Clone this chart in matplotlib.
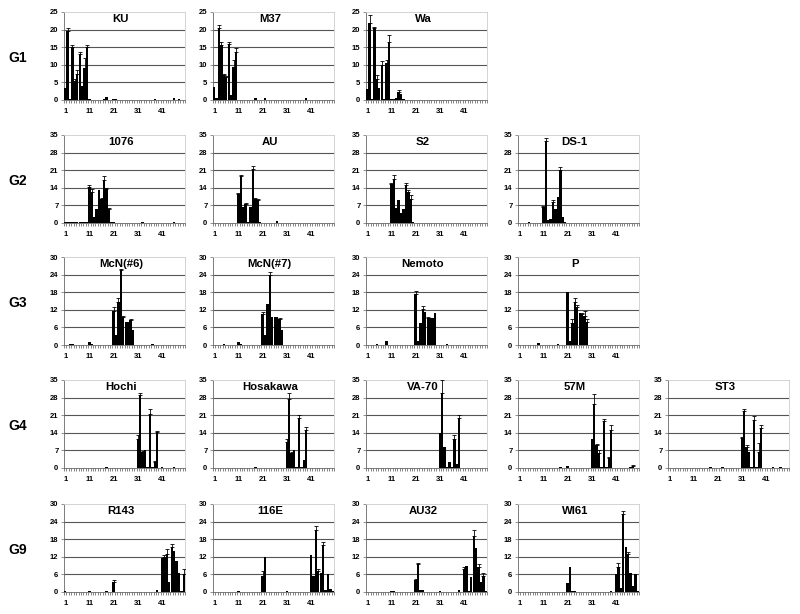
import matplotlib
matplotlib.use('Agg')
import matplotlib.pyplot as plt
import numpy as np

plt.rcParams['font.family'] = ['Liberation Sans', 'DejaVu Sans']

# ---------------- data (percent per fraction 1..50) ----------------
fractions = list(range(1, 51))
xtick_labels = ['1', '11', '21', '31', '41']

KU = [3.5, 19.5, 0.3, 15, 5.5, 7.5, 13, 4, 9, 15,
      0.2, 0.1, 0.1, 0.1, 0.1, 0.1, 0.2, 0.8, 0.1, 0.1,
      0.4, 0.2, 0.1, 0.1, 0.1, 0.1, 0.1, 0.1, 0.1, 0.1,
      0.1, 0.1, 0.1, 0.1, 0.1, 0.1, 0.1, 0.4, 0.1, 0.1,
      0.1, 0.1, 0.1, 0.1, 0.1, 0.5, 0.1, 0.4, 0.1, 0.1]
KU_err = {2: 1, 4: 0.5, 5: 0.5, 6: 1, 7: 0.5, 9: 3, 10: 0.6}

M37 = [3.8, 0.5, 20.5, 15.5, 7, 6.5, 16, 1.5, 9.5, 13.5,
       0.1, 0.1, 0.1, 0.1, 0.1, 0.1, 0.1, 0.5, 0.1, 0.1,
       0.1, 0.5, 0.1, 0.1, 0.1, 0.1, 0.1, 0.1, 0.1, 0.1,
       0.1, 0.1, 0.1, 0.1, 0.1, 0.1, 0.1, 0.1, 0.6, 0.1,
       0.1, 0.1, 0.1, 0.1, 0.1, 0.1, 0.1, 0.1, 0.1, 0.1]
M37_err = {3: 0.8, 4: 1, 5: 0.5, 6: 0.3, 7: 0.5, 9: 2, 10: 1.2}

Wa = [3, 22, 0.3, 20.5, 6, 3.5, 10, 0.3, 10.5, 16.5,
      0.3, 0.2, 0.5, 2.3, 1.8, 0.3, 0.1, 0.1, 0.1, 0.1,
      0.1, 0.1, 0.1, 0.1, 0.1, 0.1, 0.1, 0.1, 0.1, 0.1,
      0.1, 0.1, 0.1, 0.1, 0.1, 0.1, 0.1, 0.1, 0.1, 0.1,
      0.1, 0.1, 0.1, 0.1, 0.1, 0.1, 0.1, 0.1, 0.1, 0.1]
Wa_err = {2: 2.2, 4: 0.3, 5: 1, 7: 1, 9: 1, 10: 2, 14: 0.4}

S1076 = [0.3, 0.2, 0.3, 0.2, 0.3, 0.2, 0.3, 0.2, 0.3, 0.2,
         14.5, 12.5, 2.5, 5.5, 13, 9.5, 17, 13.5, 5.5, 0.2,
         0.2, 0.1, 0.1, 0.1, 0.1, 0.1, 0.1, 0.1, 0.1, 0.1,
         0.1, 0.1, 0.5, 0.1, 0.1, 0.1, 0.1, 0.1, 0.1, 0.1,
         0.1, 0.1, 0.1, 0.1, 0.1, 0.3, 0.1, 0.1, 0.1, 0.1]
S1076_err = {11: 0.5, 12: 1, 16: 0.5, 17: 1.5, 18: 0.5, 19: 0.5}

AU = [0.1, 0.1, 0.1, 0.1, 0.1, 0.1, 0.1, 0.1, 0.1, 0.1,
      11.5, 18.5, 6.5, 7.5, 0.3, 6.5, 21.5, 9.5, 9, 0.2,
      0.1, 0.1, 0.1, 0.1, 0.1, 0.1, 0.6, 0.1, 0.1, 0.1,
      0.1, 0.1, 0.1, 0.1, 0.1, 0.1, 0.1, 0.1, 0.1, 0.1,
      0.1, 0.1, 0.1, 0.1, 0.1, 0.1, 0.1, 0.1, 0.1, 0.1]
AU_err = {11: 0.5, 12: 0.5, 14: 0.3, 17: 1, 18: 0.5, 19: 0.5}

S2 = [0.1, 0.1, 0.1, 0.1, 0.1, 0.1, 0.1, 0.1, 0.1, 0.1,
      15.5, 17.5, 6, 9, 4, 5.5, 15, 12.5, 9.5, 0.2,
      0.1, 0.1, 0.1, 0.1, 0.1, 0.1, 0.1, 0.1, 0.1, 0.1,
      0.1, 0.1, 0.1, 0.1, 0.1, 0.1, 0.1, 0.1, 0.1, 0.1,
      0.1, 0.1, 0.1, 0.1, 0.1, 0.1, 0.1, 0.1, 0.1, 0.1]
S2_err = {11: 0.5, 12: 1.5, 17: 1, 18: 0.5, 19: 1.5}

DS1 = [0.1, 0.1, 0.1, 0.1, 0.5, 0.1, 0.1, 0.1, 0.1, 0.1,
       6.5, 32.5, 1, 1.5, 8.5, 5.5, 10.5, 21, 2.5, 0.2,
       0.1, 0.1, 0.1, 0.1, 0.1, 0.1, 0.1, 0.1, 0.1, 0.1,
       0.1, 0.1, 0.1, 0.1, 0.1, 0.1, 0.1, 0.1, 0.1, 0.1,
       0.1, 0.1, 0.1, 0.1, 0.1, 0.1, 0.1, 0.1, 0.1, 0.1]
DS1_err = {11: 0.3, 12: 1.5, 15: 0.5, 18: 1.2}

McN6 = [0.1, 0.1, 0.4, 0.4, 0.1, 0.1, 0.1, 0.1, 0.1, 0.1,
        1.0, 0.2, 0.1, 0.1, 0.1, 0.1, 0.1, 0.1, 0.1, 0.1,
        11.5, 3.5, 14.5, 25.5, 9.5, 8, 8, 8.5, 5, 0.1,
        0.1, 0.1, 0.1, 0.1, 0.1, 0.1, 0.4, 0.1, 0.1, 0.1,
        0.1, 0.1, 0.1, 0.1, 0.1, 0.1, 0.1, 0.1, 0.1, 0.1]
McN6_err = {21: 1.5, 23: 1.5, 24: 0.5, 25: 0.3, 28: 0.5}

McN7 = [0.1, 0.1, 0.1, 0.1, 0.4, 0.1, 0.1, 0.1, 0.1, 0.1,
        1.0, 0.2, 0.1, 0.1, 0.1, 0.1, 0.1, 0.1, 0.1, 0.1,
        10.5, 3.5, 14, 24, 9.5, 9.5, 9.5, 9, 5, 0.1,
        0.1, 0.1, 0.1, 0.1, 0.1, 0.1, 0.1, 0.1, 0.1, 0.1,
        0.1, 0.1, 0.1, 0.1, 0.1, 0.1, 0.1, 0.1, 0.1, 0.1]
McN7_err = {21: 0.8, 24: 1, 28: 0.3}

Nemoto = [0.1, 0.1, 0.1, 0.1, 0.2, 0.1, 0.1, 0.1, 1.2, 0.1,
          0.1, 0.1, 0.1, 0.1, 0.1, 0.1, 0.1, 0.1, 0.1, 0.1,
          17.5, 1.5, 7.5, 12.4, 11.3, 9.3, 9.3, 9.3, 11, 0.1,
          0.1, 0.1, 0.1, 0.3, 0.1, 0.1, 0.1, 0.1, 0.1, 0.1,
          0.1, 0.1, 0.1, 0.1, 0.1, 0.1, 0.1, 0.1, 0.1, 0.1]
Nemoto_err = {21: 0.8, 24: 1, 26: 0.3}

P = [0.1, 0.1, 0.1, 0.1, 0.1, 0.1, 0.1, 0.1, 0.8, 0.1,
     0.1, 0.1, 0.1, 0.1, 0.1, 0.1, 0.3, 0.1, 0.1, 0.1,
     18, 1.5, 7.5, 14.5, 13, 11, 10.5, 10, 8, 0.1,
     0.1, 0.1, 0.1, 0.1, 0.1, 0.1, 0.1, 0.1, 0.1, 0.1,
     0.1, 0.1, 0.1, 0.1, 0.1, 0.1, 0.1, 0.1, 0.1, 0.1]
P_err = {23: 1.5, 24: 1.5, 25: 0.5, 27: 0.5, 28: 1.5, 29: 1}

Hochi = [0.1, 0.1, 0.1, 0.1, 0.1, 0.1, 0.1, 0.1, 0.1, 0.1,
         0.1, 0.1, 0.1, 0.1, 0.1, 0.1, 0.1, 0.5, 0.1, 0.1,
         0.1, 0.1, 0.1, 0.1, 0.1, 0.1, 0.1, 0.1, 0.1, 0.1,
         11.5, 29, 6.5, 7, 0.3, 21.5, 0.3, 2.5, 14.5, 0.1,
         0.3, 0.1, 0.1, 0.1, 0.1, 0.2, 0.1, 0.1, 0.1, 0.1]
Hochi_err = {31: 1.5, 32: 1, 33: 0.3, 36: 2, 38: 0.3, 39: 0.3}

Hosakawa = [0.1, 0.1, 0.1, 0.1, 0.1, 0.1, 0.1, 0.1, 0.1, 0.1,
            0.1, 0.1, 0.1, 0.1, 0.1, 0.1, 0.1, 0.5, 0.1, 0.1,
            0.1, 0.1, 0.1, 0.1, 0.1, 0.1, 0.1, 0.1, 0.1, 0.1,
            10.5, 27.5, 6, 7, 0.3, 20, 0.3, 3, 15, 0.1,
            0.1, 0.1, 0.1, 0.1, 0.1, 0.1, 0.1, 0.1, 0.1, 0.1]
Hosakawa_err = {31: 1, 32: 2.5, 33: 0.5, 36: 1, 39: 1.5}

VA70 = [0.1, 0.1, 0.1, 0.1, 0.1, 0.1, 0.1, 0.1, 0.1, 0.1,
        0.1, 0.1, 0.1, 0.1, 0.1, 0.1, 0.1, 0.1, 0.1, 0.1,
        0.1, 0.1, 0.1, 0.1, 0.1, 0.1, 0.1, 0.1, 0.1, 0.1,
        14, 30, 8.5, 0.3, 2.5, 0.5, 11.5, 1.5, 20, 0.1,
        0.1, 0.1, 0.1, 0.1, 0.1, 0.1, 0.1, 0.1, 0.1, 0.1]
VA70_err = {32: 5, 37: 1.5, 39: 1}

M57 = [0.1, 0.1, 0.1, 0.1, 0.1, 0.1, 0.1, 0.1, 0.1, 0.1,
       0.1, 0.1, 0.1, 0.1, 0.1, 0.1, 0.1, 0.4, 0.1, 0.1,
       0.7, 0.1, 0.1, 0.1, 0.1, 0.1, 0.1, 0.1, 0.1, 0.1,
       11.5, 25.5, 9, 6, 0.3, 18.5, 0.3, 4, 15, 0.1,
       0.1, 0.1, 0.1, 0.1, 0.1, 0.1, 0.3, 0.6, 0.1, 0.1]
M57_err = {32: 4, 33: 0.5, 34: 1, 36: 1, 38: 0.3, 39: 2, 48: 0.6}

ST3 = [0.1, 0.1, 0.1, 0.1, 0.1, 0.1, 0.1, 0.1, 0.1, 0.1,
       0.1, 0.1, 0.1, 0.1, 0.1, 0.1, 0.1, 0.5, 0.1, 0.1,
       0.1, 0.1, 0.2, 0.1, 0.1, 0.1, 0.1, 0.1, 0.1, 0.1,
       12, 22.5, 8.5, 6.5, 0.3, 19, 0.3, 6.5, 16, 0.1,
       0.1, 0.1, 0.1, 0.2, 0.1, 0.1, 0.4, 0.1, 0.1, 0.1]
ST3_err = {31: 0.5, 32: 1, 33: 0.5, 36: 1.5, 38: 3.5, 39: 1}

R143 = [0.2, 0.1, 0.1, 0.1, 0.1, 0.1, 0.1, 0.1, 0.1, 0.1,
        0.5, 0.1, 0.1, 0.1, 0.1, 0.1, 0.1, 0.3, 0.1, 0.1,
        3.5, 0.1, 0.1, 0.1, 0.1, 0.1, 0.1, 0.1, 0.1, 0.1,
        0.1, 0.1, 0.1, 0.1, 0.1, 0.1, 0.1, 0.1, 0.8, 0.1,
        11.5, 12, 13, 3.5, 15.5, 14, 10.5, 6.5, 0.3, 6]
R143_err = {21: 0.5, 42: 0.5, 43: 1.5, 45: 1, 50: 2}

E116 = [0.1, 0.1, 0.1, 0.1, 0.1, 0.1, 0.1, 0.1, 0.1, 0.1,
        0.3, 0.1, 0.1, 0.1, 0.1, 0.1, 0.1, 0.1, 0.1, 0.1,
        5.5, 12, 0.1, 0.1, 0.1, 0.1, 0.1, 0.1, 0.1, 0.1,
        0.2, 0.1, 0.1, 0.1, 0.1, 0.1, 0.1, 0.1, 0.1, 0.1,
        12.5, 5.5, 21, 7, 6.5, 16, 0.8, 6, 1, 0.5]
E116_err = {21: 1.5, 43: 1.5, 44: 1, 46: 1}

AU32 = [0.1, 0.1, 0.1, 0.1, 0.1, 0.1, 0.1, 0.1, 0.1, 0.1,
        0.3, 0.3, 0.1, 0.1, 0.1, 0.1, 0.1, 0.1, 0.1, 0.1,
        4, 9.5, 0.8, 0.8, 0.1, 0.1, 0.1, 0.1, 0.1, 0.1,
        0.2, 0.1, 0.1, 0.1, 0.1, 0.1, 0.1, 0.1, 0.8, 0.1,
        8, 9, 0.5, 5, 19, 15, 8.5, 3.5, 5.5, 0.3]
AU32_err = {21: 0.3, 22: 0.3, 41: 0.5, 45: 2, 47: 1, 49: 1}

WI61 = [0.1, 0.1, 0.1, 0.1, 0.1, 0.1, 0.1, 0.1, 0.1, 0.1,
        0.1, 0.1, 0.1, 0.1, 0.1, 0.1, 0.1, 0.1, 0.1, 0.1,
        3, 8.5, 0.5, 0.3, 0.1, 0.1, 0.1, 0.1, 0.1, 0.1,
        0.1, 0.1, 0.1, 0.1, 0.1, 0.1, 0.1, 0.1, 0.5, 0.1,
        6, 8.5, 1.5, 26.5, 15.5, 13, 6.5, 2, 6, 0.3]
WI61_err = {42: 1.5, 44: 1, 46: 0.5}

row_labels = ['G1', 'G2', 'G3', 'G4', 'G9']
row_ymax = [25, 35, 30, 35, 30]
rows = [
    [('KU', KU, KU_err), ('M37', M37, M37_err), ('Wa', Wa, Wa_err)],
    [('1076', S1076, S1076_err), ('AU', AU, AU_err), ('S2', S2, S2_err), ('DS-1', DS1, DS1_err)],
    [('McN(#6)', McN6, McN6_err), ('McN(#7)', McN7, McN7_err), ('Nemoto', Nemoto, Nemoto_err), ('P', P, P_err)],
    [('Hochi', Hochi, Hochi_err), ('Hosakawa', Hosakawa, Hosakawa_err), ('VA-70', VA70, VA70_err),
     ('57M', M57, M57_err), ('ST3', ST3, ST3_err)],
    [('R143', R143, R143_err), ('116E', E116, E116_err), ('AU32', AU32, AU32_err), ('WI61', WI61, WI61_err)],
]

# ---------------- layout ----------------
W, H = 800, 614
fig = plt.figure(figsize=(W / 100, H / 100), dpi=100)
col_left = [64, 213, 366, 518, 668]
row_top = [12, 135, 257, 380, 504]
AX_W, AX_H = 121, 88

for r, panels in enumerate(rows):
    ymax = row_ymax[r]
    fig.text(18 / W, 1 - (row_top[r] + 46) / H, row_labels[r], ha='center', va='center',
             fontsize=10, fontweight='bold')
    for c, (title, vals, errd) in enumerate(panels):
        left, top = col_left[c], row_top[r]
        ax = fig.add_axes([left / W, 1 - (top + AX_H) / H, AX_W / W, AX_H / H])
        x = np.array(fractions)
        v = np.array(vals, dtype=float)
        up = np.array([errd.get(i, 0.0) for i in fractions])
        ax.bar(x, v, width=0.97, color='black', linewidth=0, zorder=3)
        m = up > 0
        ax.errorbar(x[m], v[m], yerr=[np.zeros(m.sum()), up[m]], fmt='none',
                    ecolor='black', elinewidth=0.6, capsize=1.2, capthick=0.6, zorder=4)
        ax.set_xlim(0.5, 50.5)
        ax.set_ylim(0, ymax)
        step = ymax / 5
        yt = [step * k for k in range(6)]
        ax.set_yticks(yt)
        ax.set_yticklabels([str(int(t)) for t in yt])
        for t in yt[1:-1]:
            ax.axhline(t, color='#555555', linewidth=0.8, zorder=1)
        ax.set_xticks([1, 11, 21, 31, 41])
        ax.set_xticklabels(xtick_labels)
        ax.set_xticks(np.arange(0.5, 51, 1), minor=True)
        ax.tick_params(axis='x', which='major', length=0, pad=6, labelsize=5.5)
        ax.tick_params(axis='x', which='minor', length=2.2, width=0.5, color='#555555', direction='out')
        ax.tick_params(axis='y', which='major', length=2, width=0.5, color='#666666', pad=2,
                       labelsize=5.5)
        for lab in ax.get_xticklabels() + ax.get_yticklabels():
            lab.set_fontweight('bold')
        ax.spines['left'].set_color('#666666')
        ax.spines['bottom'].set_color('#666666')
        ax.spines['top'].set_color('#cccccc')
        ax.spines['right'].set_color('#cccccc')
        for s in ax.spines.values():
            s.set_linewidth(0.6)
        ax.text(0.47, 0.92, title, transform=ax.transAxes, ha='center', va='center',
                fontsize=8.2, fontweight='bold', zorder=5)

fig.savefig('out.png', dpi=100)
